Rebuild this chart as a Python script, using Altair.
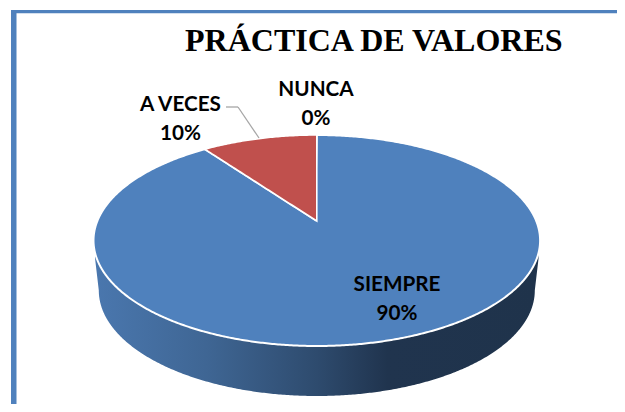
import numpy as np
import pandas as pd
import altair as alt

TITLE = "PRÁCTICA DE VALORES"
categories = ["SIEMPRE", "A VECES", "NUNCA"]
shares = [90, 10, 0]
slice_colors = ["#4f81bd", "#c0504d", "#9bbb59"]
side_stops = [(0, "#4a77ae"), (0.25, "#3f6694"), (0.5, "#2e4b6e"), (0.66, "#20344e"), (1, "#1f334b")]

# pixel layout of the pie
CX, CY, RX, RY = 316.8, 240.5, 223.3, 105.5
APEX_V = 19.5 / RY         # the apex sits above the ellipse centre (3-D perspective)
FORESHORTEN = 0.836        # perspective narrowing of the rear slice angle
DEPTH_V = 50 / RY
BOTTOM_RX = 218 / RX
W, H = 609, 396

x_scale = alt.Scale(domain=[(8 - CX) / RX, (8 + W - CX) / RX], range=[0, W], zero=False, nice=False)
y_scale = alt.Scale(domain=[(CY - 8 - H) / RY, (CY - 8) / RY], range=[H, 0], zero=False, nice=False)
X = alt.X("x:Q", scale=x_scale, axis=None)
Y = alt.Y("y:Q", scale=y_scale, axis=None)
Y2 = alt.Y2("y2:Q")

def upper(u):
    return np.sqrt(np.clip(1 - u**2, 0, 1))

t = np.linspace(np.pi, 0, 361)
grid = np.cos(t)

# slice boundary from the data
theta = np.deg2rad(shares[1] / sum(shares) * 360 * FORESHORTEN)
edge_u = -np.sin(theta)
edge_v = np.cos(theta)

def ray(u):
    return APEX_V + (edge_v - APEX_V) * (u / edge_u)

# blue slice: whole ellipse less the wedge
xs = np.unique(np.concatenate([grid, [edge_u, 0.0]]))
top_vals = np.where((xs > edge_u) & (xs < 0), ray(xs), upper(xs))
blue = pd.DataFrame({"x": xs, "y": top_vals, "y2": -upper(xs)})

# red slice
wx = np.unique(np.concatenate([grid[(grid > edge_u) & (grid < 0)], [edge_u, 0.0]]))
red = pd.DataFrame({"x": wx, "y": upper(wx), "y2": ray(wx)})
red.loc[red["x"] == 0.0, "y2"] = APEX_V

# side wall
bx = BOTTOM_RX * grid
side_x = np.concatenate([[-0.993], bx, [0.993]])
side_y = np.concatenate([[-0.171], -DEPTH_V - upper(grid), [-0.171]])
side = pd.DataFrame({"x": side_x, "y": side_y, "y2": 0.0})

grad = alt.Gradient(
    gradient="linear",
    stops=[alt.GradientStop(color=c, offset=o) for o, c in side_stops],
    x1=0, x2=1, y1=0, y2=0,
)

side_layer = alt.Chart(side).mark_area(color=grad).encode(x=X, y=Y, y2=Y2)
blue_layer = alt.Chart(blue).mark_area(color=slice_colors[0], stroke="white", strokeWidth=2).encode(x=X, y=Y, y2=Y2)
red_layer = alt.Chart(red).mark_area(color=slice_colors[1], stroke="white", strokeWidth=1.6).encode(x=X, y=Y, y2=Y2)

def rect(x, x2, y, y2):
    return alt.Chart(pd.DataFrame({"a": [0]})).mark_rect(color="#4f81bd", opacity=1).encode(
        x=alt.value(x), x2=alt.value(x2), y=alt.value(y), y2=alt.value(y2))

border = rect(3, 8.5, 2, H) + rect(3, W, 2, 5.2)

def leader(x, x2, y, y2):
    return alt.Chart(pd.DataFrame({"a": [0]})).mark_rule(color="#a6a6a6", strokeWidth=1.3).encode(
        x=alt.value(x), x2=alt.value(x2), y=alt.value(y), y2=alt.value(y2))

leaders = leader(218, 230, 99, 99) + leader(230, 251, 99, 130)

def label(i, px, py):
    return alt.Chart(pd.DataFrame({"t": [f"{categories[i]}\n{shares[i]}%"]})).mark_text(
        font="Lato", fontWeight="bold", fontSize=20.7, color="black", lineBreak="\n",
        lineHeight=29, align="center", baseline="middle",
    ).encode(x=alt.value(px - 8), y=alt.value(py - 8), text="t:N")

labels = label(0, 397, 285) + label(1, 180.5, 105) + label(2, 316, 90)

chart = alt.layer(border, side_layer, blue_layer, red_layer, leaders, labels).properties(
    width=W, height=H, padding=0, autosize=alt.AutoSizeParams(type="none"),
    title=alt.TitleParams(TITLE, font="Liberation Serif", fontWeight="bold", fontSize=32, color="black",
                          anchor="start", frame="group", dx=177, dy=50, offset=0),
    background="white",
).configure_view(stroke=None)

chart.save("out.html", embed_options={"renderer": "svg", "actions": False})
